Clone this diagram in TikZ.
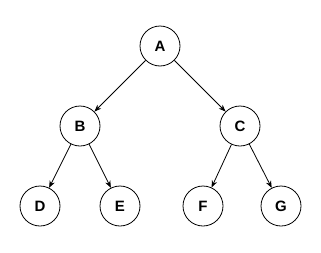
\documentclass[tikz,border=0pt]{standalone}
\usepackage{fontspec}
\setmainfont{Liberation Sans}
\usetikzlibrary{arrows.meta}
\begin{document}
\begin{tikzpicture}[x=1pt,y=-1pt,
  vertex/.style={draw,circle,minimum size=40pt,inner sep=0pt,line width=0.8pt,font=\bfseries\fontsize{15}{15}\selectfont},
  link/.style={draw,line width=0.8pt,-{Stealth[length=7pt,width=5.5pt]}}]
\useasboundingbox (0,0) rectangle (321,252);
\node[vertex] (A) at (160,46) {A};
\node[vertex] (B) at (80,126) {B};
\node[vertex] (C) at (240,126) {C};
\node[vertex] (D) at (40,206) {D};
\node[vertex] (E) at (120,206) {E};
\node[vertex] (F) at (203,206) {F};
\node[vertex] (G) at (281,206) {G};
\draw[link] (A) -- (B);
\draw[link] (A) -- (C);
\draw[link] (B) -- (D);
\draw[link] (B) -- (E);
\draw[link] (C) -- (F);
\draw[link] (C) -- (G);
\end{tikzpicture}
\end{document}
